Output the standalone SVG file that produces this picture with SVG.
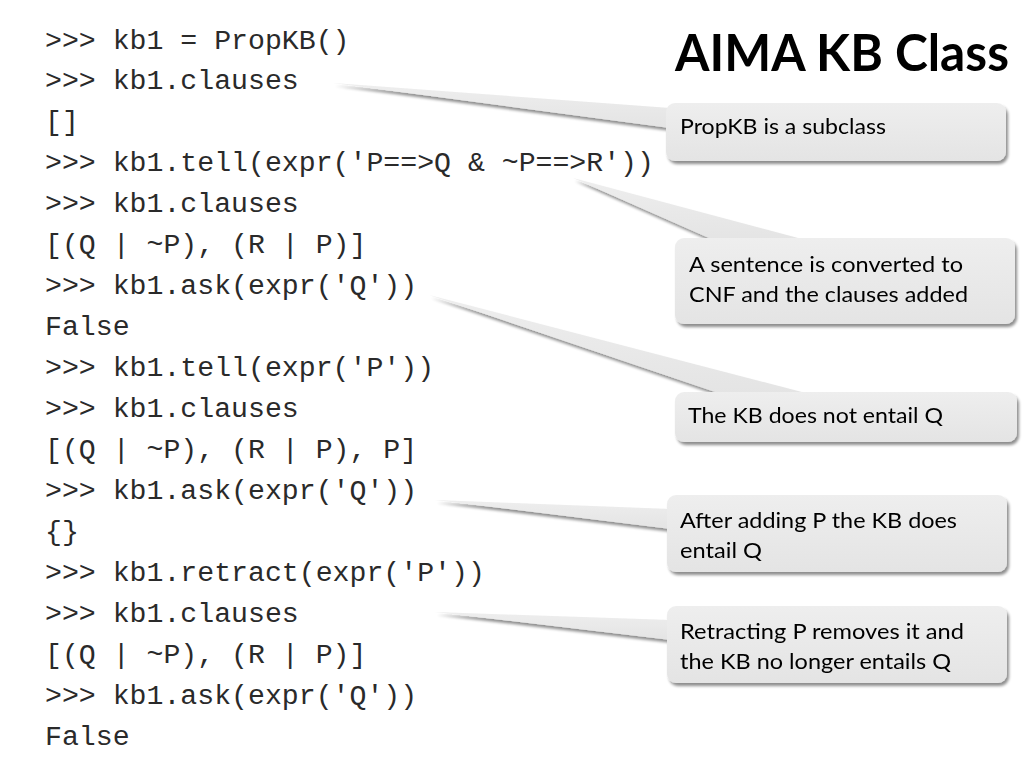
<svg xmlns="http://www.w3.org/2000/svg" width="1024" height="768" viewBox="0 0 1024 768">
<defs>
<linearGradient id="g" x1="0" y1="0" x2="0" y2="1">
<stop offset="0" stop-color="#eeeeee"/>
<stop offset="1" stop-color="#e4e4e4"/>
</linearGradient>
<filter id="sh" x="-10%" y="-10%" width="125%" height="140%">
<feGaussianBlur in="SourceAlpha" stdDeviation="1.6"/>
<feOffset dx="2" dy="3" result="b"/>
<feComponentTransfer><feFuncA type="linear" slope="0.45"/></feComponentTransfer>
<feMerge><feMergeNode/><feMergeNode in="SourceGraphic"/></feMerge>
</filter>
</defs>
<style>
.code{font-family:"Liberation Mono","Courier New",monospace;font-size:28.2px;fill:#2a2a2a}
.title{font-family:Lato,"Open Sans","Liberation Sans",sans-serif;font-weight:bold;font-size:52px;fill:#000}
.lbl{font-family:Lato,"Open Sans","Liberation Sans",sans-serif;font-size:22px;fill:#000}
.call{fill:url(#g)}
</style>
<rect width="1024" height="768" fill="#ffffff"/>
<g id="code">
<text class="code" x="45" y="48.5">&gt;&gt;&gt; kb1 = PropKB()</text>
<text class="code" x="45" y="89.4">&gt;&gt;&gt; kb1.clauses</text>
<text class="code" x="45" y="130.4">[]</text>
<text class="code" x="45" y="171.3">&gt;&gt;&gt; kb1.tell(expr('P==&gt;Q &amp; ~P==&gt;R'))</text>
<text class="code" x="45" y="212.3">&gt;&gt;&gt; kb1.clauses</text>
<text class="code" x="45" y="253.2">[(Q | ~P), (R | P)]</text>
<text class="code" x="45" y="294.2">&gt;&gt;&gt; kb1.ask(expr('Q'))</text>
<text class="code" x="45" y="335.1">False</text>
<text class="code" x="45" y="376.1">&gt;&gt;&gt; kb1.tell(expr('P'))</text>
<text class="code" x="45" y="417">&gt;&gt;&gt; kb1.clauses</text>
<text class="code" x="45" y="458">[(Q | ~P), (R | P), P]</text>
<text class="code" x="45" y="498.9">&gt;&gt;&gt; kb1.ask(expr('Q'))</text>
<text class="code" x="45" y="539.9">{}</text>
<text class="code" x="45" y="580.8">&gt;&gt;&gt; kb1.retract(expr('P'))</text>
<text class="code" x="45" y="621.8">&gt;&gt;&gt; kb1.clauses</text>
<text class="code" x="45" y="662.7">[(Q | ~P), (R | P)]</text>
<text class="code" x="45" y="703.7">&gt;&gt;&gt; kb1.ask(expr('Q'))</text>
<text class="code" x="45" y="744.6">False</text>
</g>
<g id="title">
<text class="title" x="675" y="71" textLength="334" lengthAdjust="spacingAndGlyphs">AIMA KB Class</text>
</g>
<g id="connectors">
</g>
<g id="callout1" filter="url(#sh)">
<polygon class="call" points="333,83 670,108 670,128"/>
<rect class="call" x="666" y="103" width="340" height="58" rx="9"/>
<text class="lbl" x="680" y="134" textLength="206" lengthAdjust="spacingAndGlyphs">PropKB is a subclass</text>
</g>
<g id="callout2" filter="url(#sh)">
<polygon class="call" points="573,178 718,242 813,242"/>
<rect class="call" x="675" y="238" width="340" height="86" rx="9"/>
<text class="lbl" x="689" y="272" textLength="274" lengthAdjust="spacingAndGlyphs">A sentence is converted to</text>
<text class="lbl" x="689" y="302" textLength="279" lengthAdjust="spacingAndGlyphs">CNF and the clauses added</text>
</g>
<g id="callout3" filter="url(#sh)">
<polygon class="call" points="429,295 727,396 817,396"/>
<rect class="call" x="675" y="392" width="342" height="50" rx="9"/>
<text class="lbl" x="688" y="423" textLength="255" lengthAdjust="spacingAndGlyphs">The KB does not entail Q</text>
</g>
<g id="callout4" filter="url(#sh)">
<polygon class="call" points="435,500 671,509 671,529"/>
<rect class="call" x="667" y="495" width="340" height="77" rx="9"/>
<text class="lbl" x="680" y="528" textLength="277" lengthAdjust="spacingAndGlyphs">After adding P the KB does</text>
<text class="lbl" x="680" y="558" textLength="82" lengthAdjust="spacingAndGlyphs">entail Q</text>
</g>
<g id="callout5" filter="url(#sh)">
<polygon class="call" points="435,612 671,620 671,640"/>
<rect class="call" x="667" y="606" width="340" height="77" rx="9"/>
<text class="lbl" x="680" y="639" textLength="284" lengthAdjust="spacingAndGlyphs">Retracting P removes it and</text>
<text class="lbl" x="680" y="669" textLength="271" lengthAdjust="spacingAndGlyphs">the KB no longer entails Q</text>
</g>
</svg>
